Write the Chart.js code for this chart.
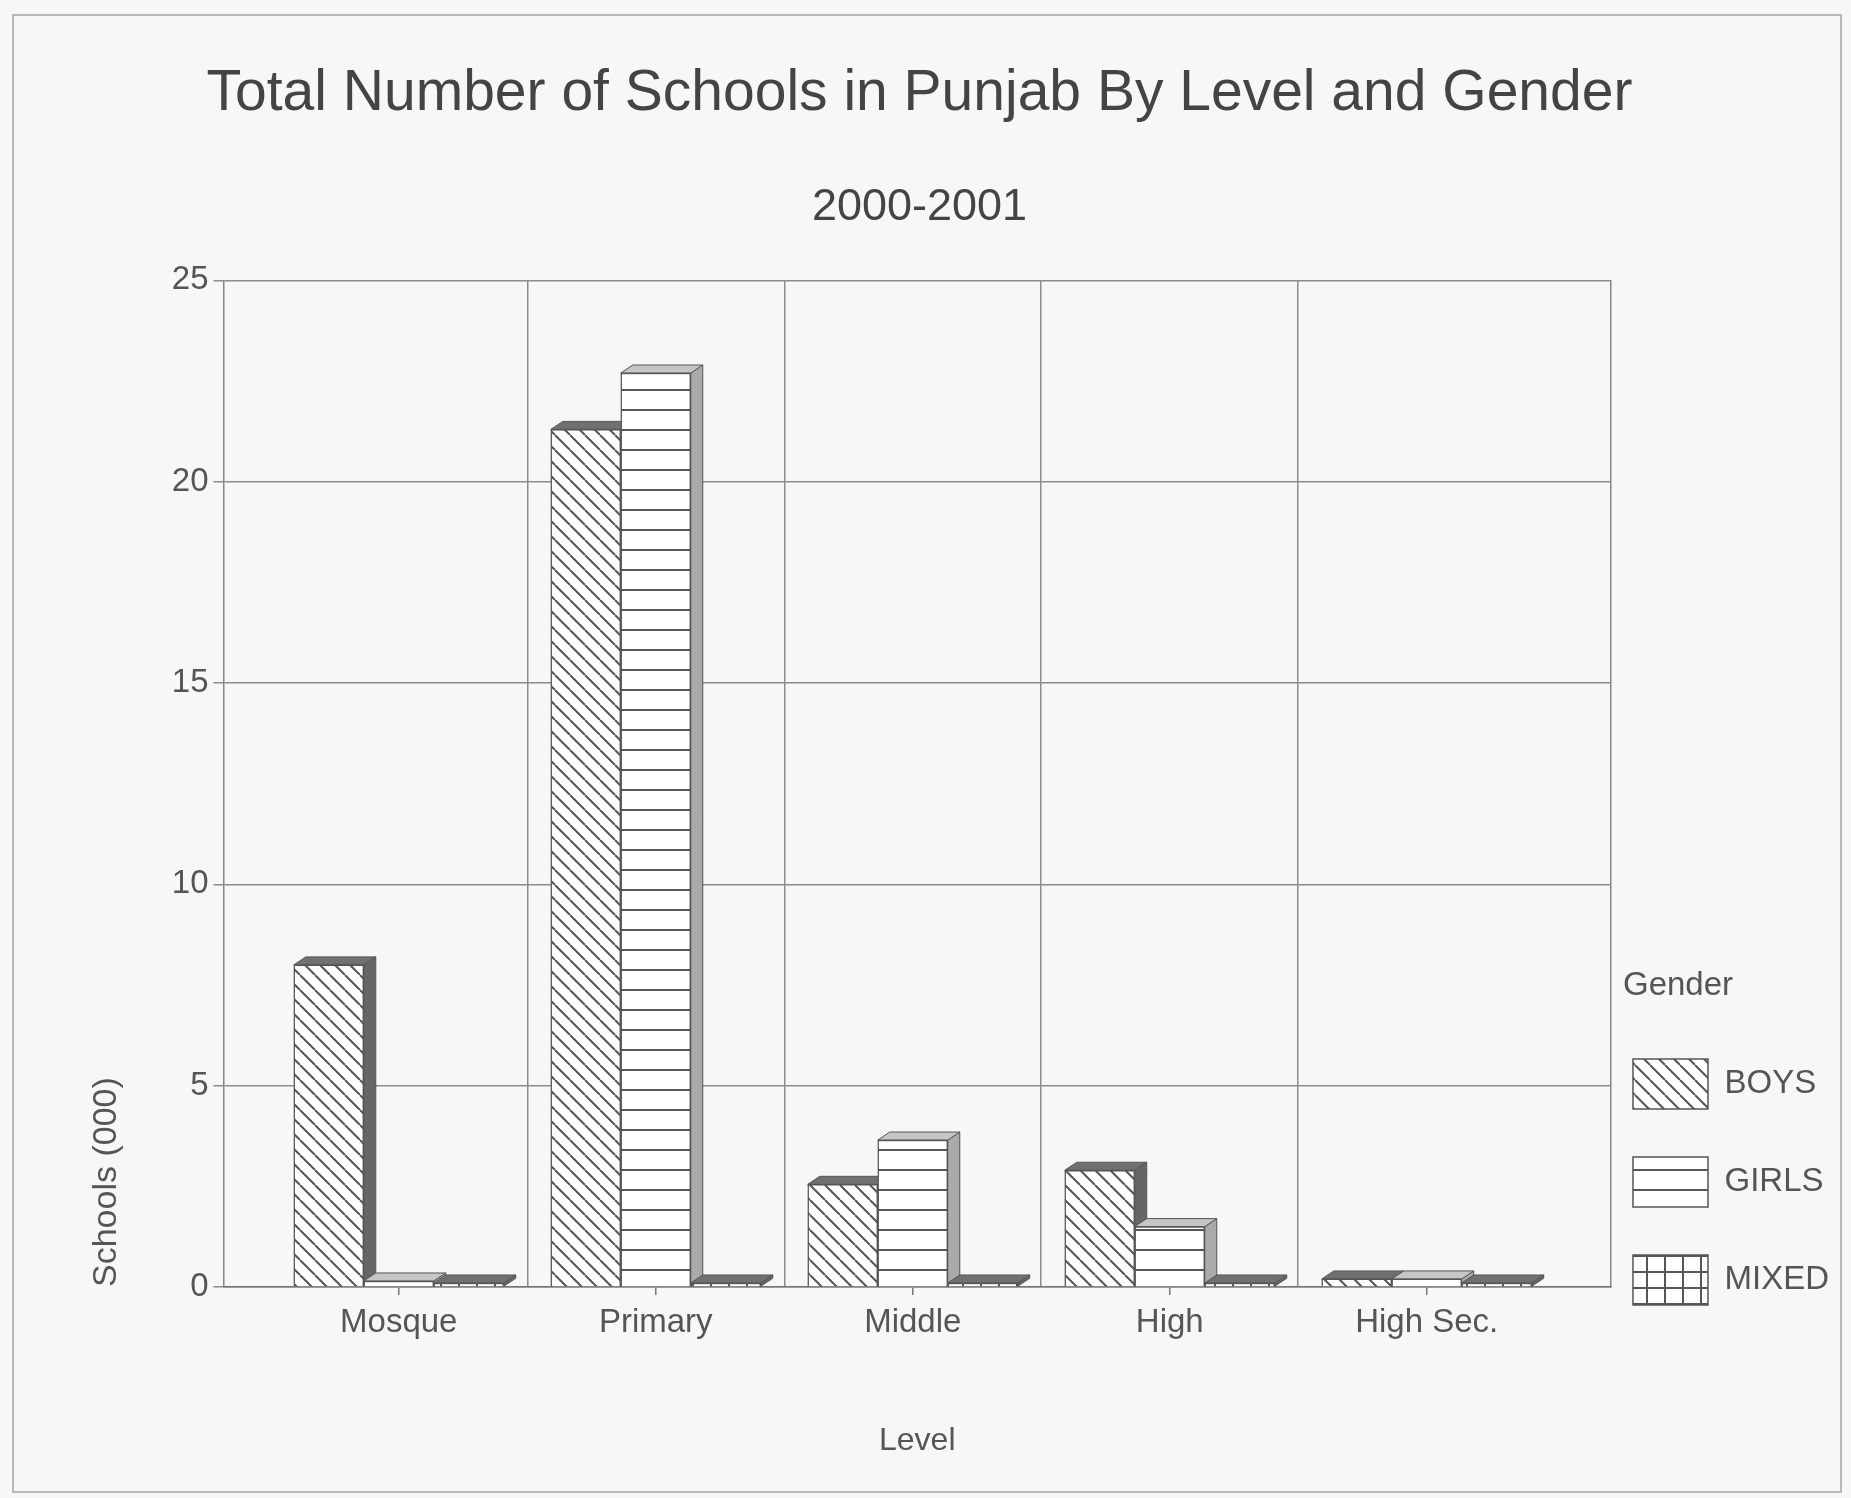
<!DOCTYPE html>
<html>
<head>
<meta charset="utf-8">
<title>Total Number of Schools in Punjab</title>
<script src="https://cdn.jsdelivr.net/npm/chart.js@4.4.1/dist/chart.umd.min.js"></script>
<style>
  body { margin: 0; background: #f7f7f5; }
  #wrap { position: relative; width: 1851px; height: 1498px; }
  #frame { position: absolute; left: 12px; top: 14px; width: 1826px; height: 1475px; border: 2px solid #b8b8b8; pointer-events: none; }
</style>
</head>
<body>
<div id="wrap">
  <canvas id="myChart" width="1851" height="1498"></canvas>
  <div id="frame"></div>
</div>
<script>
var levels = ['Mosque', 'Primary', 'Middle', 'High', 'High Sec.'];
var genders = ['BOYS', 'GIRLS', 'MIXED'];
var boys = [8.0, 21.3, 2.55, 2.9, 0.2];
var girls = [0.15, 22.7, 3.65, 1.5, 0.2];
var mixed = [0.1, 0.1, 0.1, 0.1, 0.1];
var yTicks = [0, 5, 10, 15, 20, 25];

Chart.defaults.font.family = "'Liberation Sans', Arial, sans-serif";
Chart.defaults.color = '#555';

// hatch fills like the old b/w print
function makePattern(kind) {
    var c = document.createElement('canvas');
    var w = 15, h = 15;
    if (kind == 'horiz') { w = 20; h = 20; }
    if (kind == 'grid') { w = 18; h = 16; }
    c.width = w;
    c.height = h;
    var g = c.getContext('2d');
    g.fillStyle = '#fff';
    g.fillRect(0, 0, w, h);
    g.strokeStyle = '#555';
    g.lineWidth = 2;
    g.beginPath();
    if (kind == 'diag') {
        for (var k = -1; k <= 1; k++) {
            g.moveTo(k * w, 0);
            g.lineTo(k * w + w, h);
        }
    } else if (kind == 'horiz') {
        g.moveTo(0, h / 2);
        g.lineTo(w, h / 2);
    } else {
        g.moveTo(0, h / 2);
        g.lineTo(w, h / 2);
        g.moveTo(w / 2, 0);
        g.lineTo(w / 2, h);
    }
    g.stroke();
    return g.createPattern(c, 'repeat');
}

var patterns = [makePattern('diag'), makePattern('horiz'), makePattern('grid')];
var sideColors = ['#666', '#aaa', '#666'];
var topColors = ['#707070', '#c6c6c6', '#707070'];
var depthX = 12, depthY = 8;

// fake 3d: side + top faces drawn behind the library's bars
var depth3d = {
    id: 'depth3d',
    beforeDatasetsDraw: function(chart) {
        var ctx = chart.ctx;
        ctx.save();
        ctx.strokeStyle = '#555';
        ctx.lineWidth = 1;
        for (var i = 0; i < chart.data.datasets.length; i++) {
            var meta = chart.getDatasetMeta(i);
            meta.data.forEach(function(bar) {
                var l = bar.x - bar.width / 2, r = bar.x + bar.width / 2;
                var t = bar.y, b = bar.base;
                ctx.fillStyle = sideColors[i];
                ctx.beginPath();
                ctx.moveTo(r, t);
                ctx.lineTo(r + depthX, t - depthY);
                ctx.lineTo(r + depthX, b - depthY);
                ctx.lineTo(r, b);
                ctx.closePath();
                ctx.fill();
                ctx.stroke();
                ctx.fillStyle = topColors[i];
                ctx.beginPath();
                ctx.moveTo(l, t);
                ctx.lineTo(l + depthX, t - depthY);
                ctx.lineTo(r + depthX, t - depthY);
                ctx.lineTo(r, t);
                ctx.closePath();
                ctx.fill();
                ctx.stroke();
            });
        }
        ctx.restore();
    }
};

// push the legend down to sit near the bottom of the plot
var legendShift = {
    id: 'legendShift',
    afterLayout: function(chart) {
        chart.legend.top += 66;
        chart.legend.bottom += 66;
    }
};

function toPoints(arr) {
    return arr.map(function(v, i) { return {x: i, y: v}; });
}

function init_chart() {
    var ctx = document.getElementById('myChart').getContext('2d');
    var series = [boys, girls, mixed];

    const data = {
        datasets: series.map(function(s, i) {
            return {
                label: genders[i],
                data: toPoints(s),
                backgroundColor: patterns[i],
                borderColor: '#555',
                borderWidth: 1.5,
                barThickness: 70
            };
        })
    };

    const config = {
        type: 'bar',
        data: data,
        options: {
            responsive: false,
            animation: false,
            layout: { padding: { left: 0, right: 12, top: 0, bottom: 38 } },
            scales: {
                x: {
                    type: 'linear',
                    offset: false,
                    min: -0.682,
                    max: 4.717,
                    afterBuildTicks: function(axis) {
                        var t = [];
                        for (var i = 0; i < levels.length; i++) {
                            t.push({value: i});
                            if (i < levels.length - 1) t.push({value: i + 0.5});
                        }
                        axis.ticks = t;
                    },
                    ticks: {
                        autoSkip: false,
                        maxRotation: 0,
                        padding: 8,
                        font: { size: 33 },
                        callback: function(value) {
                            return Number.isInteger(value) ? levels[value] : '';
                        }
                    },
                    grid: {
                        offset: false,
                        lineWidth: 1.5,
                        tickLength: 8,
                        color: function(c) {
                            return c.tick && c.tick.value % 1 !== 0 ? '#8c8c8c' : 'rgba(0,0,0,0)';
                        },
                        tickColor: function(c) {
                            return c.tick && c.tick.value % 1 === 0 ? '#777' : 'rgba(0,0,0,0)';
                        }
                    },
                    border: { color: '#777', width: 1.5 },
                    title: {
                        display: true,
                        text: 'Level',
                        font: { size: 32 },
                        padding: { top: 71, bottom: 0 }
                    }
                },
                y: {
                    min: 0,
                    max: 25,
                    afterBuildTicks: function(axis) {
                        axis.ticks = yTicks.map(function(v) { return {value: v}; });
                    },
                    ticks: { padding: 5, font: { size: 33 } },
                    grid: { color: '#8c8c8c', lineWidth: 1.5, tickLength: 10 },
                    border: { color: '#888', width: 1.5 },
                    title: {
                        display: true,
                        text: 'Schools (000)',
                        align: 'start',
                        font: { size: 34 },
                        padding: { top: 86, bottom: 40 }
                    }
                },
                y2: {
                    position: 'right',
                    min: 0,
                    max: 25,
                    ticks: { display: false },
                    grid: { drawOnChartArea: false, tickLength: 12, tickColor: 'rgba(0,0,0,0)' },
                    border: { color: '#888', width: 1.5 }
                }
            },
            plugins: {
                title: {
                    display: true,
                    text: 'Total Number of Schools in Punjab By Level and Gender',
                    color: '#444',
                    font: { size: 57, weight: 'normal' },
                    padding: { top: 60, bottom: 0 }
                },
                subtitle: {
                    display: true,
                    text: '2000-2001',
                    color: '#444',
                    font: { size: 45 },
                    padding: { top: 52, bottom: 46 }
                },
                legend: {
                    position: 'right',
                    align: 'end',
                    fullSize: false,
                    title: {
                        display: true,
                        text: 'Gender',
                        position: 'start',
                        font: { size: 33 },
                        padding: { top: 0, bottom: 40 }
                    },
                    labels: {
                        boxWidth: 75,
                        boxHeight: 50,
                        padding: 10,
                        font: { size: 33, lineHeight: 88 / 33 },
                        generateLabels: function(chart) {
                            var items = Chart.defaults.plugins.legend.labels.generateLabels(chart);
                            return items.map(function(it) {
                                it.text = [it.text];
                                return it;
                            });
                        }
                    }
                },
                tooltip: { enabled: false }
            }
        },
        plugins: [depth3d, legendShift]
    };

    return new Chart(ctx, config);
}

var myChart = init_chart();
</script>
</body>
</html>
